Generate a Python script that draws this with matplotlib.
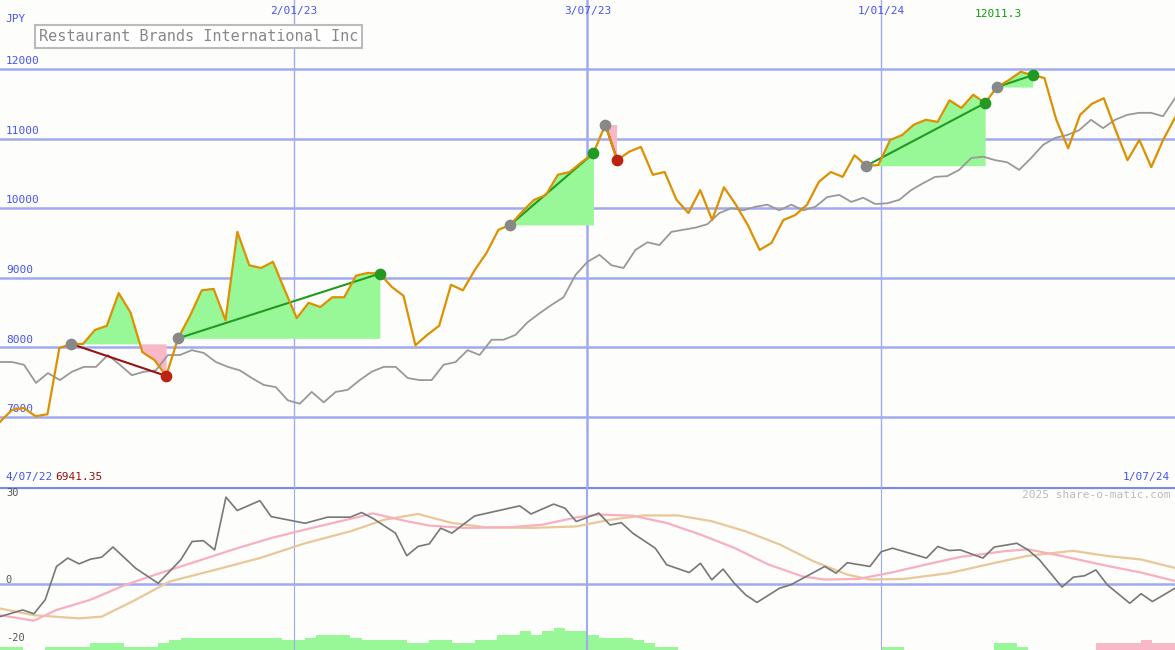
import numpy as np
import pandas as pd
import matplotlib
matplotlib.use('Agg')
import matplotlib.pyplot as plt

# weekly closing price (JPY), Jul 2022 - Jul 2024
price = [6930, 7100, 7130, 7010, 7040, 7990, 8050, 8050, 8250, 8310, 8780, 8500,
         7930, 7820, 7590, 8130, 8450, 8820, 8840, 8390, 9660, 9180, 9140, 9230,
         8820, 8420, 8640, 8580, 8720, 8720, 9030, 9070, 9060, 8870, 8740, 8030,
         8180, 8310, 8900, 8820, 9110, 9360, 9690, 9760, 9950, 10120, 10190, 10480,
         10520, 10660, 10790, 11200, 10690, 10810, 10880, 10480, 10520, 10120, 9930, 10260,
         9830, 10300, 10050, 9760, 9400, 9500, 9830, 9900, 10050, 10380, 10520, 10450,
         10760, 10610, 10620, 10980, 11050, 11200, 11270, 11240, 11550, 11440, 11630, 11510,
         11740, 11840, 11960, 11910, 11870, 11270, 10860, 11340, 11500, 11580, 11120, 10690,
         10980, 10590, 10980, 11300]

# benchmark line (rebased)
bench = [7790, 7790, 7750, 7490, 7630, 7530, 7650, 7720, 7720, 7890, 7750, 7600,
         7650, 7670, 7890, 7890, 7960, 7920, 7790, 7720, 7670, 7560, 7460, 7430,
         7240, 7190, 7360, 7210, 7360, 7390, 7530, 7650, 7720, 7720, 7560, 7530,
         7530, 7750, 7790, 7960, 7890, 8110, 8110, 8180, 8360, 8490, 8610, 8720,
         9040, 9230, 9330, 9180, 9140, 9400, 9510, 9470, 9660, 9690, 9720, 9770,
         9930, 10000, 9970, 10020, 10050, 9970, 10050, 9970, 10020, 10160, 10190, 10090,
         10150, 10060, 10070, 10120, 10260, 10360, 10450, 10460, 10550, 10720, 10740, 10690,
         10660, 10550, 10720, 10910, 11010, 11050, 11120, 11270, 11150, 11270, 11340, 11370,
         11370, 11320, 11580]

# trades: (entry index, exit index)
trades = [(6, 14), (15, 32), (43, 50), (51, 52), (73, 83), (84, 87)]

# momentum oscillator
osc_week = [0, 2, 3, 4, 5, 6, 7, 8, 9, 10, 12, 14, 16, 17, 18, 19, 20, 21, 23, 24,
            27, 29, 31, 32, 33, 35, 36, 37, 38, 39, 40, 42, 46, 47, 49, 50, 51, 53, 54, 55,
            56, 58, 59, 61, 62, 63, 64, 65, 66, 67, 69, 70, 73, 74, 75, 77, 78, 79, 82, 83,
            84, 85, 87, 88, 90, 91, 92, 94, 95, 96, 97, 98, 100, 101, 102, 104]
osc_val = [-11.3, -9, -10.3, -5.5, 6, 8.9, 6.9, 8.5, 9.2, 12.7, 5.4, 0.2, 8.3, 14.6, 14.9, 11.7,
           29.9, 25.3, 28.7, 23.2, 20.9, 23, 23, 24.6, 22.6, 17.5, 9.7, 12.9, 13.8, 19.2,
           17.5, 23.4, 26.9, 24.1, 27.5, 26.1, 21.5, 24.4, 20.3, 21.1, 17.5, 12.3, 6.6, 3.9,
           7.1, 1.4, 5.1, 0.2, -3.8, -6.4, -1.5, -0.3, 6, 3.7, 7.3, 6, 11.1, 12.3, 8.9, 12.9,
           11.5, 11.7, 8.9, 12.7, 14, 11.7, 8.3, -1.1, 2.3, 2.8, 4.8, -0.3, -6.7, -3.4, -6.1, -1.5]

pink_week = [0, 3, 5, 8, 11, 14, 18, 21, 24, 27, 31, 33, 36, 38, 41, 45, 48, 51, 53, 56,
             59, 62, 65, 68, 71, 73, 76, 79, 82, 85, 89, 91, 94, 98, 101, 104]
pink_val = [-10.8, -12.7, -9, -5.5, -0.5, 3.5, 8.5, 12.3, 15.8, 18.7, 22.4, 24.3, 21.6, 20.1,
            19.3, 19.5, 20.4, 22.9, 23.9, 23.5, 21, 17, 12.4, 6.7, 2.6, 1.5, 1.7, 4, 6.7,
            9.3, 11.3, 11.9, 9.6, 6.2, 3.9, 1]

tan_week = [0, 3, 7, 9, 12, 15, 19, 23, 27, 31, 34, 37, 40, 43, 47, 51, 54, 57, 60, 63,
            66, 69, 72, 75, 77, 80, 84, 88, 91, 95, 98, 101, 104]
tan_val = [-8.5, -10.8, -11.9, -11.3, -5.5, 0.8, 4.8, 8.9, 14, 18.1, 22.1, 24.1, 21, 19.5,
           19.3, 19.8, 22.1, 23.6, 23.6, 21.6, 18.1, 13.6, 7.8, 3.2, 1.5, 1.7, 3.7, 7.2,
           9.7, 11.4, 9.6, 8.4, 5.5]

# volume-like bars per week (top value), None = no bar; last weeks are pink
N = None
bar_top = [-21.8, -21.8, N, N, -21.8, -21.8, -21.8, -21.8, -20.5, -20.5, -20.5, -21.8, -21.8, -21.8,
           -20.5, -19.5] + [-18.5] * 9 + [-19.5, -19.5, -18.5, -17.6, -17.6, -17.6, -18.5,
           -19.5, -19.5, -19.5, -19.5, -20.5, -20.5, -19.5, -19.5, -20.5, -20.5, -19.3, -19.3,
           -17.6, -17.6, -16.2, -17.6, -16.4, -15.1, -16.4, -16.4, -17.6, -18.5, -18.5, -18.5,
           -19.5, -20.5, -21.8, -21.8] + [N] * 18 + [-21.8, -21.8] + [N] * 8 + [-20.5, -20.5, -21.8] \
          + [N] * 6 + [-20.5, -20.5, -20.5, -20.5, -19.5, -20.5, -20.5]
pink_from = 97

start = pd.Timestamp('2022-07-04')
def wk(w):
    return start + pd.to_timedelta(np.asarray(w, dtype=float) * 7, unit='D')

px = wk(np.linspace(0, 104, len(price)))
bx = wk(np.linspace(0, 104, len(bench)))
end = wk(104)

blue = '#a0aaf0'
tickc = '#4455ee'
mono = 'DejaVu Sans Mono'
bg = '#fdfdfb'

fig = plt.figure(figsize=(11.75, 6.5), dpi=100, facecolor=bg)
ax = fig.add_axes([0, 163 / 650, 1, 487 / 650], facecolor=bg)
ax2 = fig.add_axes([0, 0, 1, 163 / 650], facecolor=bg)

ylo, yhi = 5994, 12991
ax.set_ylim(ylo, yhi)
ax.set_xlim(start, end)
for v in range(7000, 12001, 1000):
    ax.axhline(v, color=blue, lw=1.8, zorder=1)
    ax.text(0.005, v + 70, str(v), transform=ax.get_yaxis_transform(),
            color=tickc, fontsize=8, family=mono)
for w, lw, lab in [(26, 1, '2/01/23'), (52, 1.8, '3/07/23'), (78, 1, '1/01/24')]:
    ax.axvline(wk(w), color=blue, lw=lw, zorder=1)
    ax.text(wk(w), yhi - 160, lab, ha='center', va='center', color=tickc, fontsize=8, family=mono)
ax.text(0.005, 0.96, 'JPY', transform=ax.transAxes, color=tickc, fontsize=8, family=mono, va='center')

ax.plot(bx, bench, color='#999999', lw=1.3, zorder=3)

for i, j in trades:
    xs = px[i:j + 1]
    ys = np.array(price[i:j + 1], dtype=float)
    base = price[i]
    ax.fill_between(xs, base, ys, where=ys >= base, color='#98f898', lw=0, interpolate=True, zorder=2)
    ax.fill_between(xs, base, ys, where=ys < base, color='#f8b8c8', lw=0, interpolate=True, zorder=2)
    win = price[j] > price[i]
    lc = '#229922' if win else '#991111'
    ax.plot([px[i], px[j]], [price[i], price[j]], color=lc, lw=1.5, zorder=4)
    ax.scatter([px[i]], [price[i]], s=55, color='#888888', zorder=6)
    ax.scatter([px[j]], [price[j]], s=55, color='#229922' if win else '#bb2211', zorder=6)

ax.plot(px, price, color='#dd9000', lw=1.6, zorder=5)

imax = int(np.argmax(price))
ax.text(px[imax] - pd.Timedelta(days=14), yhi - 200, '12011.3', ha='center', va='center',
        color='#119911', fontsize=8, family=mono)
ax.text(0.033, 0.925, 'Restaurant Brands International Inc', transform=ax.transAxes,
        color='#888888', fontsize=11, family=mono, va='center',
        bbox=dict(boxstyle='square,pad=0.25', fc='white', ec='#bbbbbb', lw=1.5))
ax.text(0.005, 0.015, '4/07/22', transform=ax.transAxes, color=tickc, fontsize=8, family=mono)
ax.text(0.047, 0.015, '6941.35', transform=ax.transAxes, color='#991111', fontsize=8, family=mono)
ax.text(0.996, 0.015, '1/07/24', transform=ax.transAxes, color=tickc, fontsize=8, family=mono, ha='right')

# lower panel
blo, bhi = -22.8, 33.4
ax2.set_ylim(blo, bhi)
ax2.set_xlim(start, end)
ax2.axhline(bhi, color='#7788ee', lw=3)
ax2.axhline(0, color=blue, lw=1.8)
for w, lw in [(26, 0.8), (52, 1.5), (78, 0.8)]:
    ax2.axvline(wk(w), color=blue, lw=lw)
for v, y in [(30, 30), (0, 0), (-20, -20)]:
    ax2.text(0.005, y + 1.5, str(v), transform=ax2.get_yaxis_transform(), color='#555555',
             fontsize=7.5, family=mono, va='center')
for k, t in enumerate(bar_top):
    if t is None:
        continue
    ax2.bar(wk(k), t - blo, bottom=blo, width=7, align='edge', lw=0,
            color='#f8b8c8' if k >= pink_from else '#98f898', zorder=1)
ax2.plot(wk(tan_week), tan_val, color='#e8c898', lw=1.6, zorder=2)
ax2.plot(wk(pink_week), pink_val, color='#f8b0c0', lw=1.6, zorder=2)
ax2.plot(wk(osc_week), osc_val, color='#777777', lw=1.2, zorder=3)
ax2.text(0.996, 0.93, '2025 share-o-matic.com', transform=ax2.transAxes, ha='right',
         color='#bbbbbb', fontsize=8, family=mono)

for a in (ax, ax2):
    a.set_xticks([])
    a.set_yticks([])
    for s in a.spines.values():
        s.set_visible(False)

fig.savefig('out.png', dpi=100, facecolor=bg)
